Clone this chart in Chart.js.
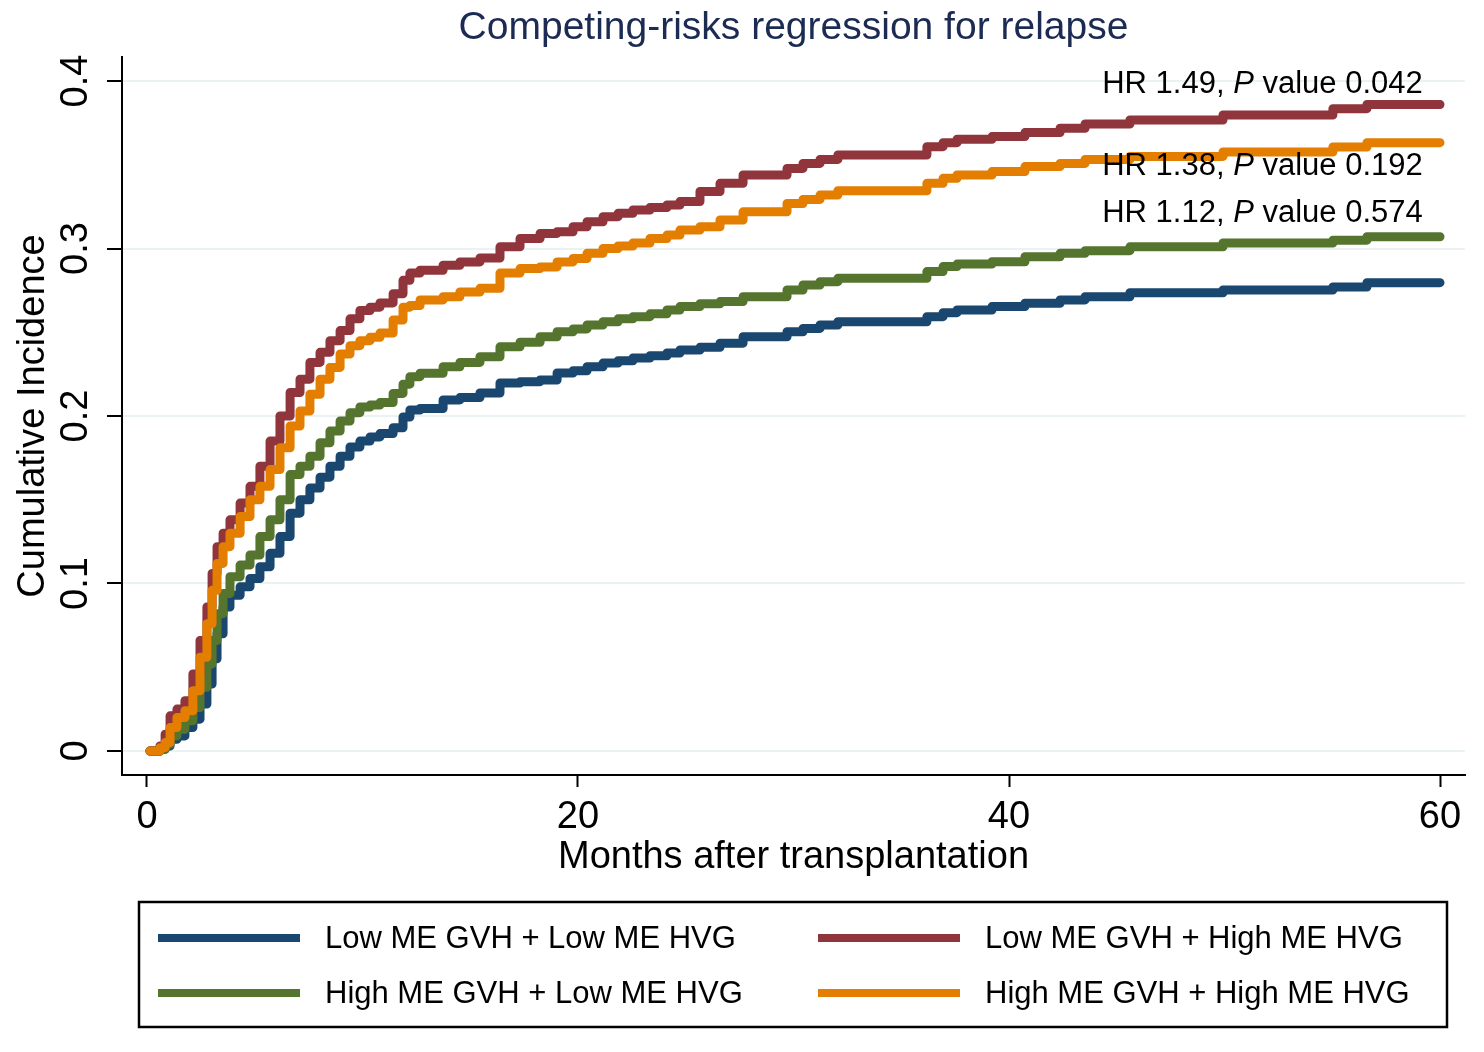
<!DOCTYPE html>
<html lang="en">
<head>
    <meta charset="UTF-8">
    <title>Competing-risks regression for relapse</title>
    <script src="https://cdn.jsdelivr.net/npm/chart.js"></script>
    <style>
        body {
            margin: 0;
            padding: 0;
            background: #fff;
        }

        canvas {
            display: block;
        }
    </style>
</head>
<body>
    <canvas id="cifChart" width="1484" height="1052"></canvas>

    <script>
        // Event times (months) shared by the four step curves
        var months = [0.14, 0.6, 0.84, 1.07, 1.39, 1.76, 2.13, 2.46, 2.78, 3.02, 3.25, 3.53, 3.85, 4.32, 4.78, 5.24, 5.71, 6.17, 6.64, 7.1,
            7.56, 8.03, 8.49, 8.96, 9.42, 9.88, 10.35, 10.81, 11.42, 11.88, 12.2, 12.67, 13.74, 14.52, 15.45, 16.38, 17.31, 18.24, 19.03, 19.77,
            20.42, 21.16, 21.86, 22.55, 23.34, 24.13, 24.73, 25.66, 26.59, 27.66, 29.7, 30.44, 31.23, 32.06, 36.19, 36.94, 37.59, 39.21, 40.74, 42.37,
            43.53, 45.61, 49.93, 55.03, 56.61, 60.0];

        // Cumulative incidence for each group
        var lowGvhLowHvg = [0, 0.001, 0.003, 0.007, 0.009, 0.014, 0.019, 0.028, 0.040, 0.055, 0.070, 0.086, 0.093, 0.098, 0.103, 0.110, 0.118, 0.128, 0.142, 0.150,
            0.157, 0.1635, 0.170, 0.176, 0.1815, 0.185, 0.1875, 0.1895, 0.193, 0.1994, 0.2036, 0.2045, 0.2096, 0.211, 0.2137, 0.2197, 0.2205, 0.2215, 0.2257, 0.227,
            0.2294, 0.2316, 0.233, 0.2346, 0.236, 0.2376, 0.2394, 0.241, 0.2435, 0.2473, 0.2503, 0.2523, 0.2543, 0.2563, 0.2593, 0.2617, 0.2633, 0.2653, 0.2673, 0.2693,
            0.2712, 0.2736, 0.2752, 0.277, 0.2796, 0.2796];
        var lowGvhHighHvg = [0, 0.003, 0.010, 0.021, 0.025, 0.030, 0.046, 0.066, 0.086, 0.106, 0.122, 0.130, 0.138, 0.148, 0.158, 0.170, 0.185, 0.200, 0.214, 0.222,
            0.232, 0.238, 0.245, 0.251, 0.258, 0.263, 0.265, 0.2675, 0.273, 0.281, 0.2853, 0.287, 0.290, 0.292, 0.2943, 0.301, 0.306, 0.309, 0.310, 0.313,
            0.316, 0.319, 0.321, 0.323, 0.3245, 0.326, 0.328, 0.334, 0.3389, 0.3439, 0.3478, 0.3508, 0.3532, 0.3558, 0.3608, 0.3632, 0.3652, 0.3668, 0.3692, 0.3718,
            0.3743, 0.3767, 0.3797, 0.3835, 0.386, 0.386];
        var highGvhLowHvg = [0, 0.001, 0.004, 0.009, 0.013, 0.018, 0.026, 0.038, 0.052, 0.066, 0.082, 0.094, 0.104, 0.111, 0.117, 0.128, 0.138, 0.150, 0.165, 0.170,
            0.176, 0.184, 0.191, 0.197, 0.202, 0.2054, 0.2065, 0.208, 0.2135, 0.219, 0.2235, 0.2255, 0.2294, 0.232, 0.2354, 0.2413, 0.244, 0.2473, 0.2503, 0.252,
            0.2543, 0.2563, 0.258, 0.2593, 0.261, 0.2633, 0.2653, 0.267, 0.2683, 0.2712, 0.2752, 0.2782, 0.2802, 0.2822, 0.2862, 0.2892, 0.2907, 0.2921, 0.2951, 0.2971,
            0.2987, 0.301, 0.3033, 0.305, 0.307, 0.307];
        var highGvhHighHvg = [0, 0.002, 0.005, 0.014, 0.020, 0.024, 0.036, 0.056, 0.076, 0.096, 0.112, 0.122, 0.130, 0.140, 0.150, 0.158, 0.168, 0.181, 0.194, 0.203,
            0.213, 0.222, 0.229, 0.237, 0.242, 0.245, 0.247, 0.2495, 0.2573, 0.265, 0.266, 0.2693, 0.2712, 0.274, 0.2762, 0.2853, 0.288, 0.289, 0.292, 0.294,
            0.2971, 0.300, 0.3015, 0.3033, 0.306, 0.308, 0.311, 0.313, 0.317, 0.3219, 0.3269, 0.3293, 0.3319, 0.3345, 0.3389, 0.3419, 0.3439, 0.3459, 0.3489, 0.3508,
            0.3532, 0.355, 0.3576, 0.3606, 0.3632, 0.3632];

        var groupLabels = ['Low ME GVH + Low ME HVG', 'Low ME GVH + High ME HVG', 'High ME GVH + Low ME HVG', 'High ME GVH + High ME HVG'];
        var groupSeries = [lowGvhLowHvg, lowGvhHighHvg, highGvhLowHvg, highGvhHighHvg];

        var xTicks = [0, 20, 40, 60];
        var yTicks = [0, 0.1, 0.2, 0.3, 0.4];
        var yTickLabels = ['0', '0.1', '0.2', '0.3', '0.4'];

        // Hazard ratios vs. reference group (low/low), top to bottom
        var hrValues = ['1.49', '1.38', '1.12'];
        var pValues = ['0.042', '0.192', '0.574'];

        var chartTitle = 'Competing-risks regression for relapse';
        var xTitle = 'Months after transplantation';
        var yTitle = 'Cumulative Incidence';

        // Stata s2color: navy, maroon, forest green, dark orange
        var groupColors = ['#1a476f', '#90353b', '#55752f', '#e37e00'];
        var drawOrder = [3, 1, 2, 0];
        var FONT = '"Liberation Sans", Arial, Helvetica, sans-serif';

        // Draws the text, the titles and the boxed legend
        var decorations = {
            id: 'decorations',
            afterDraw: function(chart) {
                var ctx = chart.ctx;
                var xs = chart.scales.x;
                var ys = chart.scales.y;
                var area = chart.chartArea;
                var midX = (area.left + area.right) / 2;

                ctx.save();
                ctx.textAlign = 'center';
                ctx.textBaseline = 'middle';
                ctx.fillStyle = '#000';
                ctx.font = '38px ' + FONT;

                xTicks.forEach(function(v) {
                    ctx.fillText(String(v), xs.getPixelForValue(v), 818);
                });
                yTicks.forEach(function(v, i) {
                    ctx.save();
                    ctx.translate(77, ys.getPixelForValue(v));
                    ctx.rotate(-Math.PI / 2);
                    ctx.fillText(yTickLabels[i], 0, 0);
                    ctx.restore();
                });

                ctx.fillText(xTitle, midX, 858);
                ctx.save();
                ctx.translate(34, (area.top + area.bottom) / 2);
                ctx.rotate(-Math.PI / 2);
                ctx.fillText(yTitle, 0, 0);
                ctx.restore();

                ctx.fillStyle = '#1c2b53';
                ctx.font = '39px ' + FONT;
                ctx.fillText(chartTitle, midX, 28);

                // HR annotations, right aligned near the end of the curves
                var hrY = [0.398, 0.349, 0.321];
                var right = xs.getPixelForValue(59.2);
                ctx.fillStyle = '#000';
                ctx.textAlign = 'left';
                hrValues.forEach(function(hr, i) {
                    var parts = [
                        { text: 'HR ' + hr + ', ', italic: false },
                        { text: 'P', italic: true },
                        { text: ' value ' + pValues[i], italic: false }
                    ];
                    var total = 0;
                    parts.forEach(function(p) {
                        ctx.font = (p.italic ? 'italic ' : '') + '31px ' + FONT;
                        p.w = ctx.measureText(p.text).width;
                        total += p.w;
                    });
                    var x = right - total;
                    var y = ys.getPixelForValue(hrY[i]);
                    parts.forEach(function(p) {
                        ctx.font = (p.italic ? 'italic ' : '') + '31px ' + FONT;
                        ctx.fillText(p.text, x, y);
                        x += p.w;
                    });
                });

                // legend box, two columns
                ctx.strokeStyle = '#000';
                ctx.lineWidth = 2.5;
                ctx.strokeRect(139, 902, 1308, 125);
                var colX = [158, 818];
                var rowY = [938, 993];
                ctx.font = '31px ' + FONT;
                chart.data.datasets.forEach(function(ds, i) {
                    var lx = colX[i % 2];
                    var ly = rowY[Math.floor(i / 2)];
                    ctx.strokeStyle = ds.borderColor;
                    ctx.lineWidth = 8;
                    ctx.lineCap = 'butt';
                    ctx.beginPath();
                    ctx.moveTo(lx, ly);
                    ctx.lineTo(lx + 142, ly);
                    ctx.stroke();
                    ctx.fillStyle = '#000';
                    ctx.fillText(ds.label, lx + 167, ly + 1);
                });
                ctx.restore();
            }
        };

        var datasets = groupLabels.map(function(label, i) {
            return {
                label: label,
                data: months.map(function(m, j) { return { x: m, y: groupSeries[i][j] }; }),
                borderColor: groupColors[i],
                backgroundColor: groupColors[i],
                borderWidth: 9,
                borderCapStyle: 'round',
                borderJoinStyle: 'round',
                stepped: true,
                pointRadius: 0,
                fill: false,
                order: drawOrder[i]
            };
        });

        var ctx = document.getElementById('cifChart').getContext('2d');
        var cifChart = new Chart(ctx, {
            type: 'line',
            data: { datasets: datasets },
            options: {
                responsive: false,
                animation: false,
                devicePixelRatio: 1,
                layout: { padding: { left: 0, top: 57, right: 19, bottom: 0 } },
                plugins: {
                    legend: { display: false },
                    title: { display: false },
                    tooltip: { enabled: false }
                },
                scales: {
                    x: {
                        type: 'linear',
                        min: -1.16,
                        max: 61.16,
                        afterBuildTicks: function(s) { s.ticks = xTicks.map(function(v) { return { value: v }; }); },
                        afterFit: function(s) { s.height = 277; },
                        ticks: { display: false },
                        grid: { drawOnChartArea: false, drawTicks: true, tickLength: 12, tickColor: '#000', tickWidth: 2 },
                        border: { display: true, color: '#000', width: 2 }
                    },
                    y: {
                        type: 'linear',
                        min: -0.01433,
                        max: 0.41433,
                        afterBuildTicks: function(s) { s.ticks = yTicks.map(function(v) { return { value: v }; }); },
                        afterFit: function(s) { s.width = 122; },
                        ticks: { display: false },
                        grid: { color: '#eaf2f3', lineWidth: 2, drawTicks: true, tickLength: 15, tickColor: '#000', tickWidth: 2 },
                        border: { display: true, color: '#000', width: 2 }
                    }
                }
            },
            plugins: [decorations]
        });
    </script>
</body>
</html>
